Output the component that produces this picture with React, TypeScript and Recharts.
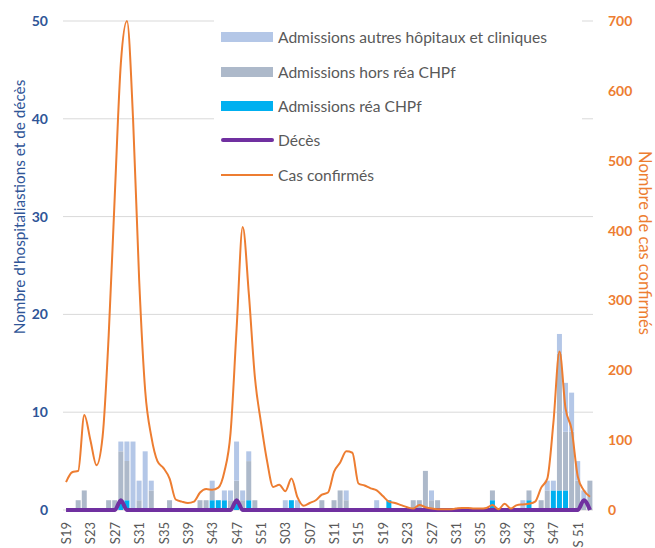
import React from "react";
import {
  ComposedChart,
  Bar,
  Line,
  XAxis,
  YAxis,
  CartesianGrid,
  Legend,
} from "recharts";

const weeks = [
  "S19", "S20", "S21", "S22", "S23", "S24", "S25", "S26", "S27", "S28",
  "S29", "S30", "S31", "S32", "S33", "S34", "S35", "S36", "S37", "S38",
  "S39", "S40", "S41", "S42", "S43", "S44", "S45", "S46", "S47", "S48",
  "S49", "S50", "S51", "S52", "S01", "S02", "S03", "S04", "S05", "S06",
  "S07", "S08", "S09", "S10", "S11", "S12", "S13", "S14", "S15", "S16",
  "S17", "S18", "S19", "S20", "S21", "S22", "S23", "S24", "S25", "S26",
  "S27", "S28", "S29", "S30", "S31", "S32", "S33", "S34", "S35", "S36",
  "S37", "S38", "S39", "S40", "S41", "S42", "S43", "S44", "S45", "S46",
  "S47", "S48", "S49", "S50", "S 51", "S52", "S53",
];

// admissions réa CHPf
const rea = [
  0, 0, 0, 0, 0, 0, 0, 0, 0, 1,
  1, 0, 0, 0, 0, 0, 0, 0, 0, 0,
  0, 0, 0, 0, 1, 1, 1, 0, 1, 0,
  1, 0, 0, 0, 0, 0, 0, 1, 0, 0,
  0, 0, 0, 0, 0, 0, 0, 0, 0, 0,
  0, 0, 0, 1, 0, 0, 0, 0, 0, 0,
  0, 0, 0, 0, 0, 0, 0, 0, 0, 0,
  1, 0, 0, 0, 0, 0, 1, 0, 0, 0,
  2, 2, 2, 0, 0, 0, 0,
];

// admissions hors réa CHPf
const horsRea = [
  0, 0, 1, 2, 0, 0, 0, 1, 1, 5,
  4, 0, 1, 0, 2, 0, 0, 1, 0, 0,
  0, 0, 1, 1, 1, 0, 0, 1, 2, 1,
  4, 1, 0, 0, 0, 0, 0, 0, 0, 0,
  0, 0, 1, 0, 1, 2, 1, 0, 0, 0,
  0, 0, 0, 0, 0, 0, 0, 1, 1, 4,
  1, 1, 0, 0, 0, 0, 0, 0, 0, 0,
  1, 0, 0, 0, 0, 0, 1, 0, 1, 2,
  0, 14, 6, 8, 3, 1, 3,
];

// admissions autres hôpitaux et cliniques
const autres = [
  0, 0, 0, 0, 0, 0, 0, 0, 0, 1,
  2, 7, 2, 6, 1, 0, 0, 0, 0, 0,
  0, 0, 0, 0, 1, 0, 1, 1, 4, 1,
  1, 0, 0, 0, 0, 0, 1, 0, 1, 0,
  0, 0, 0, 0, 0, 0, 1, 0, 0, 0,
  0, 1, 0, 0, 0, 0, 0, 0, 0, 0,
  1, 0, 0, 0, 0, 0, 0, 0, 0, 0,
  0, 0, 0, 0, 0, 1, 0, 0, 0, 1,
  1, 2, 5, 4, 2, 1, 0,
];

const deces = [
  0, 0, 0, 0, 0, 0, 0, 0, 0, 1,
  0, 0, 0, 0, 0, 0, 0, 0, 0, 0,
  0, 0, 0, 0, 0, 0, 0, 0, 1, 0,
  0, 0, 0, 0, 0, 0, 0, 0, 0, 0,
  0, 0, 0, 0, 0, 0, 0, 0, 0, 0,
  0, 0, 0, 0, 0, 0, 0, 0, 0, 0,
  0, 0, 0, 0, 0, 0, 0, 0, 0, 0,
  0, 0, 0, 0, 0, 0, 0, 0, 0, 0,
  0, 0, 0, 0, 0, 1, 0,
];

const casConfirmes = [
  40, 54, 56, 136, 100, 64, 105, 250, 450, 640,
  700, 560, 330, 170, 105, 70, 60, 45, 15, 12,
  10, 12, 25, 30, 29, 32, 55, 110, 260, 405,
  310, 190, 125, 70, 33, 36, 27, 45, 18, 6,
  10, 14, 22, 25, 55, 68, 84, 82, 38, 35,
  31, 28, 20, 12, 10, 7, 4, 2, 7, 4,
  2, 1, 1, 1, 2, 3, 3, 2, 2, 3,
  7, 1, 9, 2, 7, 8, 9, 12, 32, 45,
  125, 227, 145, 115, 48, 28, 19,
];

const leftTicks = [0, 10, 20, 30, 40, 50];
const rightTicks = [0, 100, 200, 300, 400, 500, 600, 700];

const data = weeks.map((week, i) => ({
  week,
  rea: rea[i],
  horsRea: horsRea[i],
  autres: autres[i],
  deces: deces[i],
  cas: casConfirmes[i],
}));

const FONT = "Lato, 'Open Sans', sans-serif";
const BLUE = "#2F5597";
const ORANGE = "#ED7D31";

const legendItems = [
  { label: "Admissions autres hôpitaux et cliniques", color: "#B4C7E7", kind: "bar" },
  { label: "Admissions hors réa CHPf", color: "#ADB9CA", kind: "bar" },
  { label: "Admissions réa CHPf", color: "#00B0F0", kind: "bar" },
  { label: "Décès", color: "#7030A0", kind: "thick" },
  { label: "Cas confirmés", color: ORANGE, kind: "thin" },
];

const LegendBox = () => (
  <div
    style={{
      background: "#fff",
      width: 368,
      height: 172,
      fontFamily: FONT,
      fontSize: 15.6,
      color: "#595959",
    }}
  >
    {legendItems.map((item) => (
      <div
        key={item.label}
        style={{ display: "flex", alignItems: "center", height: 34.4 }}
      >
        <svg width={64} height={12} style={{ flex: "none" }}>
          {item.kind === "bar" && (
            <rect x={7} y={1} width={52} height={10} fill={item.color} />
          )}
          {item.kind === "thick" && (
            <line x1={9} y1={6} x2={58} y2={6} stroke={item.color} strokeWidth={4} strokeLinecap="round" />
          )}
          {item.kind === "thin" && (
            <line x1={7} y1={6} x2={59} y2={6} stroke={item.color} strokeWidth={2} />
          )}
        </svg>
        <span style={{ whiteSpace: "nowrap" }}>{item.label}</span>
      </div>
    ))}
  </div>
);

const WeekTick = (props: any) => {
  const { x, y, payload } = props;
  const ty = y + 10;
  return (
    <text
      x={x}
      y={ty}
      transform={`rotate(-90 ${x} ${ty})`}
      textAnchor="end"
      dominantBaseline="central"
      fill="#595959"
      fontFamily={FONT}
      fontSize={13}
    >
      {payload.value}
    </text>
  );
};

const LeftTitle = () => (
  <text
    x={19}
    y={207}
    transform="rotate(-90 19 207)"
    textAnchor="middle"
    dominantBaseline="central"
    fill={BLUE}
    fontFamily={FONT}
    fontSize={15.3}
  >
    Nombre d'hospitaliastions et de décès
  </text>
);

const RightTitle = () => (
  <text
    x={645}
    y={243}
    transform="rotate(90 645 243)"
    textAnchor="middle"
    dominantBaseline="central"
    fill={ORANGE}
    fontFamily={FONT}
    fontSize={16.5}
  >
    Nombre de cas confirmés
  </text>
);

export default function App() {
  return (
    <div
      style={{
        position: "absolute",
        left: 0,
        top: 0,
        width: 655,
        height: 548,
        background: "#fff",
      }}
    >
      <ComposedChart
        width={655}
        height={548}
        data={data}
        margin={{ top: 21, right: 0, bottom: 0, left: 0 }}
        barCategoryGap="8%"
      >
        <CartesianGrid yAxisId="left" vertical={false} stroke="#D9D9D9" />
        <XAxis
          dataKey="week"
          height={38}
          interval={3}
          tickLine={false}
          axisLine={false}
          tickSize={0}
          tick={<WeekTick />}
        />
        <YAxis
          yAxisId="left"
          width={63}
          domain={[0, 50]}
          ticks={leftTicks}
          tickLine={false}
          axisLine={false}
          tickSize={0}
          tickMargin={15}
          tick={{ fill: BLUE, fontFamily: FONT, fontSize: 14, fontWeight: 700 }}
          label={<LeftTitle />}
        />
        <YAxis
          yAxisId="right"
          orientation="right"
          width={62}
          domain={[0, 700]}
          ticks={rightTicks}
          tickLine={false}
          axisLine={false}
          tickSize={0}
          tickMargin={15}
          tick={{ fill: ORANGE, fontFamily: FONT, fontSize: 14, fontWeight: 700 }}
          label={<RightTitle />}
        />
        <Legend
          layout="vertical"
          align="center"
          verticalAlign="middle"
          wrapperStyle={{ left: 214, top: 20, width: 368, height: 172 }}
          content={<LegendBox />}
        />
        <Bar yAxisId="left" dataKey="rea" stackId="adm" fill="#00B0F0" isAnimationActive={false} />
        <Bar yAxisId="left" dataKey="horsRea" stackId="adm" fill="#ADB9CA" isAnimationActive={false} />
        <Bar yAxisId="left" dataKey="autres" stackId="adm" fill="#B4C7E7" isAnimationActive={false} />
        <Line
          yAxisId="left"
          dataKey="deces"
          type="monotone"
          stroke="#7030A0"
          strokeWidth={4}
          dot={false}
          activeDot={false}
          isAnimationActive={false}
        />
        <Line
          yAxisId="right"
          dataKey="cas"
          type="monotone"
          stroke={ORANGE}
          strokeWidth={2}
          dot={false}
          activeDot={false}
          isAnimationActive={false}
        />
      </ComposedChart>
    </div>
  );
}
